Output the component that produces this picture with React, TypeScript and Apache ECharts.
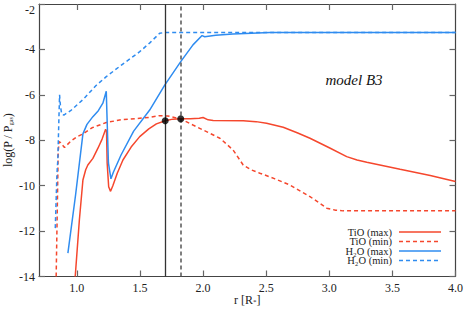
import React, { useEffect, useRef } from "react";
import * as echarts from "echarts";

const xTicks = [1.0, 1.5, 2.0, 2.5, 3.0, 3.5, 4.0];
const yTicks = [-14, -12, -10, -8, -6, -4, -2];

const tioMax: [number, number][] = [
  [0.987, -14], [1.02, -11.5], [1.048, -9.75], [1.07, -9.3], [1.087, -9.09], [1.127, -8.8],
  [1.167, -8.35], [1.2, -7.95], [1.228, -7.52], [1.235, -7.6], [1.24, -9.0], [1.252, -10.05],
  [1.267, -10.25], [1.285, -10.0], [1.32, -9.45], [1.365, -8.87], [1.43, -8.3], [1.498, -7.84],
  [1.57, -7.5], [1.63, -7.28], [1.7, -7.14], [1.76, -7.07], [1.823, -7.05], [1.9, -7.05],
  [1.97, -7.03], [2.0, -7.0], [2.04, -7.1], [2.08, -7.13], [2.318, -7.14], [2.42, -7.18],
  [2.503, -7.25], [2.635, -7.43], [2.75, -7.68], [2.847, -7.91], [3.0, -8.33], [3.138, -8.72],
  [3.22, -8.87], [3.297, -8.97], [3.561, -9.28], [3.8, -9.55], [4.0, -9.82],
];

const tioMin: [number, number][] = [
  [0.836, -14], [0.845, -11], [0.852, -8.5], [0.86, -8.06], [0.87, -8.1], [0.902, -8.32],
  [0.95, -8.05], [1.0, -7.85], [1.048, -7.72], [1.12, -7.45], [1.233, -7.22], [1.35, -7.1],
  [1.498, -7.03], [1.581, -6.99], [1.65, -6.92], [1.72, -6.93], [1.823, -7.06], [1.92, -7.33],
  [2.027, -7.62], [2.133, -7.91], [2.238, -8.43], [2.318, -9.09], [2.38, -9.3], [2.45, -9.45],
  [2.57, -9.7], [2.688, -9.97], [2.847, -10.48], [2.98, -10.99], [3.05, -11.08], [3.11, -11.11],
  [4.0, -11.11],
];

const h2oMax: [number, number][] = [
  [0.929, -12.97], [0.99, -10.4], [1.048, -7.72], [1.08, -7.3], [1.127, -6.96], [1.17, -6.7],
  [1.206, -6.37], [1.233, -5.84], [1.238, -6.8], [1.25, -9.0], [1.27, -9.7], [1.29, -9.4],
  [1.35, -8.65], [1.45, -7.6], [1.577, -6.67], [1.696, -5.57], [1.823, -4.54], [1.92, -3.8],
  [1.992, -3.39], [2.013, -3.44], [2.1, -3.38], [2.236, -3.32], [2.53, -3.26], [3.0, -3.25],
  [4.0, -3.25],
];

const h2oMin: [number, number][] = [
  [0.829, -11.87], [0.842, -9.5], [0.849, -8.87], [0.857, -7.2], [0.863, -6.0], [0.87, -6.5],
  [0.88, -6.85], [0.897, -6.89], [0.95, -6.7], [1.05, -6.2], [1.15, -5.6], [1.233, -5.2],
  [1.35, -4.7], [1.498, -4.1], [1.58, -3.7], [1.656, -3.29], [1.7, -3.25], [4.0, -3.25],
];

const markerPoints: [number, number][] = [
  [1.7, -7.14],
  [1.823, -7.06],
];
const solidLineR = 1.7;
const dashedLineR = 1.823;

const legendNames = ["TiO (max)", "TiO (min)", "H\u2082O (max)", "H\u2082O (min)"];

const RED = "#f5472d";
const BLUE = "#2f8cf0";
const FONT = "Liberation Serif";

export default function App() {
  const ref = useRef<HTMLDivElement>(null);
  useEffect(() => {
    if (!ref.current) return;
    const chart = echarts.init(ref.current, undefined, { renderer: "svg" });
    const axisLine = { show: true, lineStyle: { color: "#444", width: 1.2 } };
    const tickStyle = { color: "#666", width: 1.2 };
    const legendStyles = [
      { color: RED, dash: undefined },
      { color: RED, dash: [4, 3] },
      { color: BLUE, dash: undefined },
      { color: BLUE, dash: [4, 3] },
    ];
    const legendY = [232, 241.5, 251, 260.5];
    const graphic: any[] = [
      {
        type: "text",
        x: 354,
        y: 80,
        style: {
          text: "model B3",
          fontFamily: FONT,
          fontStyle: "italic",
          fontSize: 15,
          fill: "#111",
          align: "center",
          verticalAlign: "middle",
        },
      },
    ];
    legendNames.forEach((n, i) => {
      graphic.push({
        type: "text",
        x: 392,
        y: legendY[i],
        style: {
          text: n,
          fontFamily: FONT,
          fontSize: 10.5,
          fill: "#222",
          align: "right",
          verticalAlign: "middle",
        },
      });
      graphic.push({
        type: "line",
        shape: { x1: 399, y1: legendY[i], x2: 441, y2: legendY[i] },
        style: { stroke: legendStyles[i].color, lineWidth: 1.5, lineDash: legendStyles[i].dash },
      });
    });

    const mkLine = (name: string, data: [number, number][], color: string, dashed: boolean) => ({
      name,
      type: "line",
      data,
      showSymbol: false,
      symbol: "none",
      lineStyle: { color, width: 1.5, type: dashed ? [4, 3] : "solid" },
      z: 3,
    });

    chart.setOption({
      animation: false,
      textStyle: { fontFamily: FONT },
      grid: { left: 39, top: 4, right: 8.5, bottom: 32.5, containLabel: false, outerBoundsMode: "none" },
      xAxis: [
        {
          type: "value",
          min: 0.7,
          max: 4.0,
          position: "bottom",
          axisLine,
          splitLine: { show: false },
          axisTick: { show: true, inside: true, length: 6, lineStyle: tickStyle, customValues: xTicks },
          axisLabel: {
            customValues: xTicks,
            formatter: (v: number) => v.toFixed(1),
            fontFamily: FONT,
            fontSize: 12,
            color: "#222",
            margin: 5,
          },
          name: "r [R{s|*}]",
          nameLocation: "middle",
          nameGap: 17,
          nameMoveOverlap: false,
          nameTextStyle: {
            fontFamily: FONT,
            fontSize: 12,
            color: "#222",
            rich: { s: { fontSize: 7, fontFamily: FONT, verticalAlign: "bottom", padding: [3, 0, 0, 0] } },
          },
        },
        {
          type: "value",
          min: 0.7,
          max: 4.0,
          position: "top",
          axisLine,
          splitLine: { show: false },
          axisTick: { show: true, inside: true, length: 6, lineStyle: tickStyle, customValues: xTicks },
          axisLabel: { show: false },
        },
      ],
      yAxis: [
        {
          type: "value",
          min: yTicks[0],
          max: yTicks[yTicks.length - 1],
          interval: 2,
          position: "left",
          axisLine,
          splitLine: { show: false },
          axisTick: { show: true, inside: true, length: 6, lineStyle: tickStyle },
          axisLabel: {
            fontFamily: FONT,
            fontSize: 12,
            color: "#222",
            margin: 4,
            verticalAlignMaxLabel: "top",
          },
          name: "log(P / P{s|gas})",
          nameLocation: "middle",
          nameRotate: 90,
          nameGap: 25,
          nameMoveOverlap: false,
          nameTextStyle: {
            fontFamily: FONT,
            fontSize: 12,
            color: "#222",
            rich: { s: { fontSize: 6, fontFamily: FONT, verticalAlign: "bottom", padding: [3, 0, 0, 0] } },
          },
        },
        {
          type: "value",
          min: yTicks[0],
          max: yTicks[yTicks.length - 1],
          interval: 2,
          position: "right",
          axisLine,
          splitLine: { show: false },
          axisTick: { show: true, inside: true, length: 6, lineStyle: tickStyle },
          axisLabel: { show: false },
        },
      ],
      series: [
        mkLine("TiO (max)", tioMax, RED, false),
        mkLine("TiO (min)", tioMin, RED, true),
        mkLine("H2O (max)", h2oMax, BLUE, false),
        mkLine("H2O (min)", h2oMin, BLUE, true),
        {
          name: "vlines",
          type: "line",
          data: [],
          markLine: {
            silent: true,
            symbol: "none",
            label: { show: false },
            data: [
              { xAxis: solidLineR, lineStyle: { color: "#333", width: 1.3, type: "solid" } },
              { xAxis: dashedLineR, lineStyle: { color: "#555", width: 1.5, type: [4, 3] } },
            ],
          },
          z: 2,
        },
        {
          name: "points",
          type: "scatter",
          data: markerPoints,
          symbol: "circle",
          symbolSize: 7,
          itemStyle: { color: "#000" },
          z: 5,
        },
      ],
      graphic,
    });
    return () => chart.dispose();
  }, []);
  return <div ref={ref} style={{ width: 464, height: 309, position: "absolute", left: 0, top: 0 }} />;
}
